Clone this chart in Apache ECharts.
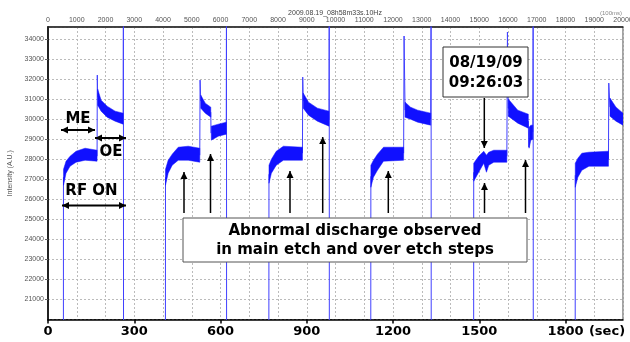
<!DOCTYPE html>
<html>
<head>
<meta charset="utf-8">
<script src="https://cdn.jsdelivr.net/npm/echarts@6/dist/echarts.min.js"></script>
<style>
  html, body { margin: 0; padding: 0; background: #fff; }
  #chart { width: 630px; height: 342px; }
</style>
</head>
<body>
<div id="chart"></div>
<script>
// time axis in seconds, intensity in A.U. (10 Hz log, top axis in 100 ms units)
const secRange = [0, 2000]
const secStep = 300
const sampleRange = [0, 20000]
const sampleStep = 1000
const intensityRange = [20000, 34600]
const intensityStep = 1000

// noisy plateaus: envelope of the trace, null = gap between steps
const bandT  = [54, 62.7, 76.7, 97.6, 129, 170.7, null,
  172.8, 184.7, 205.6, 233.4, 261.3, null,
  408.7, 418, 432, 453, 487.8, 527.9, null,
  531.4, 547, 566.2, null,
  568, 592.3, 620, null,
  768.6, 777, 794, 818.8, 885, null,
  887.8, 906, 937, 977.4, null,
  1123, 1132, 1146, 1167, 1237, null,
  1242, 1261, 1285.7, 1331, null,
  1480.8, 1498, 1515.7, 1525, 1533, 1550.5, 1596, null,
  1601, 1634, 1670.7, null,
  1673.5, 1679.4, 1686.4, null,
  1834, 1843, 1857, 1881.5, 1949.5, null,
  1954.7, 1975.6, 2000]
const bandLo = [26700, 27300, 27650, 27850, 27950, 27900, null,
  30700, 30400, 30100, 29900, 29750, null,
  26700, 27300, 27700, 27950, 27950, 27850, null,
  30550, 30300, 30100, null,
  28950, 29150, 29250, null,
  26800, 27300, 27700, 27950, 27950, null,
  30550, 30200, 29900, 29650, null,
  26600, 27100, 27450, 27900, 27950, null,
  30100, 30000, 29850, 29700, null,
  26900, 27350, 27800, 27350, 27700, 27850, 27850, null,
  30150, 29800, 29550, null,
  28550, 28950, 29000, null,
  26600, 27100, 27450, 27650, 27650, null,
  30150, 29900, 29700]
const bandHi = [27500, 27900, 28150, 28400, 28550, 28450, null,
  31500, 30950, 30650, 30400, 30300, null,
  27500, 27950, 28250, 28600, 28650, 28550, null,
  31200, 30800, 30600, null,
  29650, 29750, 29850, null,
  27700, 28000, 28400, 28650, 28600, null,
  31300, 30850, 30550, 30400, null,
  27700, 27950, 28250, 28600, 28600, null,
  30850, 30600, 30450, 30300, null,
  27800, 28150, 28400, 28200, 28350, 28450, 28450, null,
  31000, 30450, 30250, null,
  29600, 29700, 29700, null,
  27800, 28050, 28300, 28350, 28400, null,
  31050, 30600, 30300]

// thin trace: RF on edges, step spikes, end-of-process spikes
const traceT = [53.5, 53.8, null,
  170.7, 171.5, 172.8, null,
  261.3, 262.3, 262.8, null,
  408.3, 408.7, null,
  527.9, 529, 531.4, null,
  566.2, 567, null,
  620, 620.8, 621.3, null,
  768, 768.6, null,
  885, 886, 887.8, null,
  977.4, 978.2, 978.7, null,
  1122.6, 1123, null,
  1237, 1238.5, 1242, null,
  1331, 1332.5, 1333, null,
  1480.4, 1480.8, null,
  1596, 1598, 1601, null,
  1670.7, 1672, 1673.5, null,
  1686.4, 1687.5, 1688, null,
  1833.6, 1834, null,
  1949.5, 1950.5, 1954.7]
const traceV = [15000, 27100, null,
  28150, 32200, 31100, null,
  30000, 36000, 15000, null,
  15000, 27100, null,
  28200, 31950, 30900, null,
  30350, 29300, null,
  29550, 36000, 15000, null,
  15000, 27250, null,
  28300, 32100, 30900, null,
  30000, 36000, 15000, null,
  15000, 27150, null,
  28300, 34150, 30450, null,
  30000, 36000, 15000, null,
  15000, 27350, null,
  28150, 34350, 30550, null,
  29900, 28600, 29050, null,
  29350, 36000, 15000, null,
  15000, 27200, null,
  28000, 31800, 30600]

const segments = []
let cur = []
bandT.forEach((t, i) => {
  if (t === null) { if (cur.length) segments.push(cur); cur = [] }
  else cur.push(i)
})
if (cur.length) segments.push(cur)

const traceData = traceT.map((t, i) => t === null ? null : [t, traceV[i]])

function arrow(x1, y1, x2, y2, both, w) {
  const L = 7, W = 3.5
  const head = (tx, ty, fx, fy) => {
    const a = Math.atan2(ty - fy, tx - fx)
    const c = Math.cos(a), s = Math.sin(a)
    return {
      type: 'polygon', z: 100,
      shape: { points: [[tx, ty], [tx - L * c + W * s, ty - L * s - W * c], [tx - L * c - W * s, ty - L * s + W * c]] },
      style: { fill: '#000' }
    }
  }
  const els = [{ type: 'line', z: 100, shape: { x1, y1, x2, y2 }, style: { stroke: '#000', lineWidth: w } }]
  els.push(head(x2, y2, x1, y1))
  if (both) els.push(head(x1, y1, x2, y2))
  return els
}

function label(text, x, y, size, weight, family, color) {
  return {
    type: 'text', z: 101, x, y,
    style: {
      text, fill: color || '#000', fontSize: size, fontWeight: weight || 'normal',
      fontFamily: family || 'DejaVu Sans', align: 'center', verticalAlign: 'middle',
      textAlign: 'center', textVerticalAlign: 'middle'
    }
  }
}

const upArrows = [[184, 172], [210.5, 154], [290, 171], [322.7, 137], [388.3, 171], [484.5, 183], [525.5, 160]]

const graphics = [
  label('2009.08.19_08h58m33s.10Hz', 335, 13, 7, 'normal', 'Liberation Sans', '#444'),
  label('(100ms)', 611, 13, 6, 'normal', 'Liberation Sans', '#888'),
  label('(sec)', 607, 331.5, 13, 'bold'),
  ...arrow(61, 130, 95, 130, true, 2),
  ...arrow(95, 138, 126, 138, true, 2),
  ...arrow(62, 205.5, 126, 205.5, true, 2),
  label('ME', 78, 119, 15, 'bold'),
  label('OE', 111, 152, 15, 'bold'),
  label('RF ON', 91.5, 191, 15, 'bold'),
  ...upArrows.flatMap(p => arrow(p[0], 213, p[0], p[1], false, 1.5)),
  ...arrow(484.3, 98, 484.3, 148, false, 1.5),
  {
    type: 'rect', z: 100, shape: { x: 183, y: 218, width: 344, height: 44 },
    style: { fill: '#fff', stroke: '#555', lineWidth: 1 }
  },
  label('Abnormal discharge observed', 355, 231.5, 15, 'bold'),
  label('in main etch and over etch steps', 355, 250.5, 15, 'bold'),
  {
    type: 'rect', z: 100, shape: { x: 443, y: 47, width: 85, height: 50 },
    style: { fill: '#fff', stroke: '#333', lineWidth: 1 }
  },
  label('08/19/09', 486, 63, 15, 'bold'),
  label('09:26:03', 486, 83.5, 15, 'bold')
]

const dashed = { show: true, lineStyle: { color: '#bbb', type: [2, 2], width: 1 } }
const plain = v => String(v)

const chart = echarts.init(document.getElementById('chart'))
chart.setOption({
  animation: false,
  backgroundColor: '#fff',
  grid: {
    left: 48, right: 7, top: 27, bottom: 22.5,
    containLabel: false, outerBoundsMode: 'none',
    show: true, borderColor: '#444', borderWidth: 1
  },
  xAxis: [{
    type: 'value', position: 'bottom',
    min: secRange[0], max: secRange[1], interval: secStep,
    axisLine: { show: true, lineStyle: { color: '#000', width: 1.5 } },
    axisTick: { show: true, length: 4, lineStyle: { color: '#000', width: 1.5 } },
    axisLabel: {
      fontSize: 13, fontWeight: 'bold', fontFamily: 'DejaVu Sans', color: '#000',
      margin: 6, showMaxLabel: false, formatter: plain
    },
    splitLine: { show: false }
  }, {
    type: 'value', position: 'top',
    min: sampleRange[0], max: sampleRange[1], interval: sampleStep,
    axisLine: { show: true, lineStyle: { color: '#222', width: 1.5 } },
    axisTick: { show: false },
    axisLabel: { fontSize: 7, color: '#555', margin: 3, fontFamily: 'Liberation Sans', formatter: plain },
    splitLine: dashed
  }],
  yAxis: {
    type: 'value',
    min: intensityRange[0], max: intensityRange[1], interval: intensityStep,
    name: 'Intensity (A.U.)', nameLocation: 'middle', nameGap: 27,
    nameTextStyle: { fontSize: 7, color: '#555', fontFamily: 'Liberation Sans' },
    axisLine: { show: true, lineStyle: { color: '#222', width: 2 } },
    axisTick: { show: true, length: 3, lineStyle: { color: '#666' } },
    axisLabel: {
      fontSize: 7, color: '#555', margin: 4, showMinLabel: false, showMaxLabel: false,
      fontFamily: 'Liberation Sans', formatter: plain
    },
    splitLine: dashed
  },
  series: [{
    type: 'line',
    data: traceData,
    showSymbol: false,
    connectNulls: false,
    clip: true,
    lineStyle: { color: '#4040ff', width: 1 },
    z: 3
  }, {
    type: 'custom',
    clip: true,
    data: segments.map(seg => [bandT[seg[0]], bandLo[seg[0]]]),
    renderItem: (params, api) => {
      const seg = segments[params.dataIndex]
      const top = seg.map(i => api.coord([bandT[i], bandHi[i]]))
      const bot = seg.slice().reverse().map(i => api.coord([bandT[i], bandLo[i]]))
      return {
        type: 'polygon',
        shape: { points: top.concat(bot) },
        style: { fill: '#1010ff', stroke: '#1010ff', lineWidth: 0.5 }
      }
    },
    z: 4
  }],
  graphic: graphics
})
</script>
</body>
</html>
